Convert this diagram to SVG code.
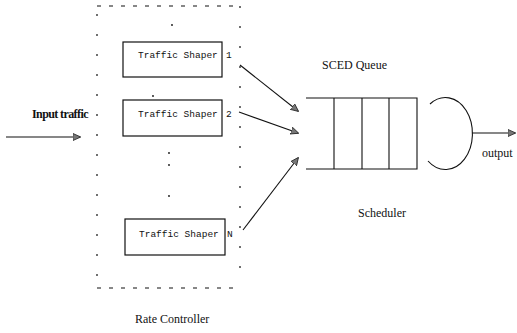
<svg xmlns="http://www.w3.org/2000/svg" width="517" height="333" viewBox="0 0 517 333">
  <defs>
    <marker id="head" viewBox="0 0 10 10" refX="9" refY="5" markerWidth="8" markerHeight="8" markerUnits="userSpaceOnUse" orient="auto">
      <path d="M0,0.5 L10,5 L0,9.5 Z" fill="#777" stroke="#222" stroke-width="1"/>
    </marker>
    <style>
      .box { fill: #fff; stroke: #111; stroke-width: 1.2; }
      .mono { font-family: "Liberation Mono", "DejaVu Sans Mono", monospace; font-size: 9.5px; fill: #111; }
      .serif { font-family: "Liberation Serif", "Times New Roman", serif; font-size: 12px; fill: #111; }
      .line { stroke: #111; stroke-width: 1.1; fill: none; }
      .dash { stroke: #111; stroke-width: 1.2; fill: none; }
      .dot { fill: #111; }
    </style>
  </defs>
  <rect width="517" height="333" fill="#fff"/>

  <!-- rate controller frame (dashed outline) -->
  <g id="rate-controller">
    <path class="dash" d="M97,6 H237" stroke-dasharray="4,8"/>
    <path class="dash" d="M97,288 H240" stroke-dasharray="4,8"/>
    <path class="dash" d="M97,14 V282" stroke-dasharray="2,18"/>
    <path class="dash" d="M240,6 V282" stroke-dasharray="2,18"/>
    <text class="serif" x="135" y="323">Rate Controller</text>
  </g>

  <!-- ellipsis dots between shapers -->
  <g id="ellipsis">
    <circle class="dot" cx="172" cy="25" r="0.9"/>
    <circle class="dot" cx="153" cy="96" r="0.9"/>
    <circle class="dot" cx="169" cy="153" r="0.9"/>
    <circle class="dot" cx="169" cy="165" r="0.9"/>
    <circle class="dot" cx="169" cy="196" r="0.9"/>
  </g>

  <g id="shaper-1">
    <rect class="box" x="123" y="42" width="99" height="35"/>
    <text class="mono" x="138" y="58">Traffic Shaper</text>
    <text class="mono" x="226" y="58">1</text>
  </g>
  <g id="shaper-2">
    <rect class="box" x="123" y="100" width="99" height="36"/>
    <text class="mono" x="138" y="117">Traffic Shaper</text>
    <text class="mono" x="226" y="117">2</text>
  </g>
  <g id="shaper-n">
    <rect class="box" x="125" y="219" width="100" height="36"/>
    <text class="mono" x="139" y="237">Traffic Shaper</text>
    <text class="mono" x="227" y="237">N</text>
  </g>

  <g id="input">
    <text class="serif" x="32" y="118" font-weight="bold" letter-spacing="-0.6">Input traffic</text>
  </g>

  <g id="sced-queue">
    <text class="serif" x="322" y="69">SCED Queue</text>
    <path class="line" d="M306,98 H417 V169 H306" stroke-width="1.4"/>
    <path class="line" d="M334,98 V169 M362,98 V169 M389,98 V169" stroke-width="1.4"/>
  </g>

  <g id="scheduler">
    <path class="line" d="M430,104 A27,36 0 1 1 428,161" stroke-width="0.9"/>
    <text class="serif" x="358" y="217">Scheduler</text>
  </g>

  <g id="output">
    <text class="serif" x="482" y="157" font-size="11">output</text>
  </g>

  <!-- connectors -->
  <g id="connectors">
    <line class="line" x1="6" y1="137" x2="80" y2="137" marker-end="url(#head)"/>
    <line class="line" x1="240" y1="65" x2="298" y2="111" marker-end="url(#head)"/>
    <line class="line" x1="239" y1="112" x2="298" y2="133" marker-end="url(#head)" stroke-width="1.6"/>
    <line class="line" x1="243" y1="230" x2="298" y2="158" marker-end="url(#head)"/>
    <line class="line" x1="472" y1="133" x2="515" y2="133" marker-end="url(#head)"/>
  </g>
</svg>
